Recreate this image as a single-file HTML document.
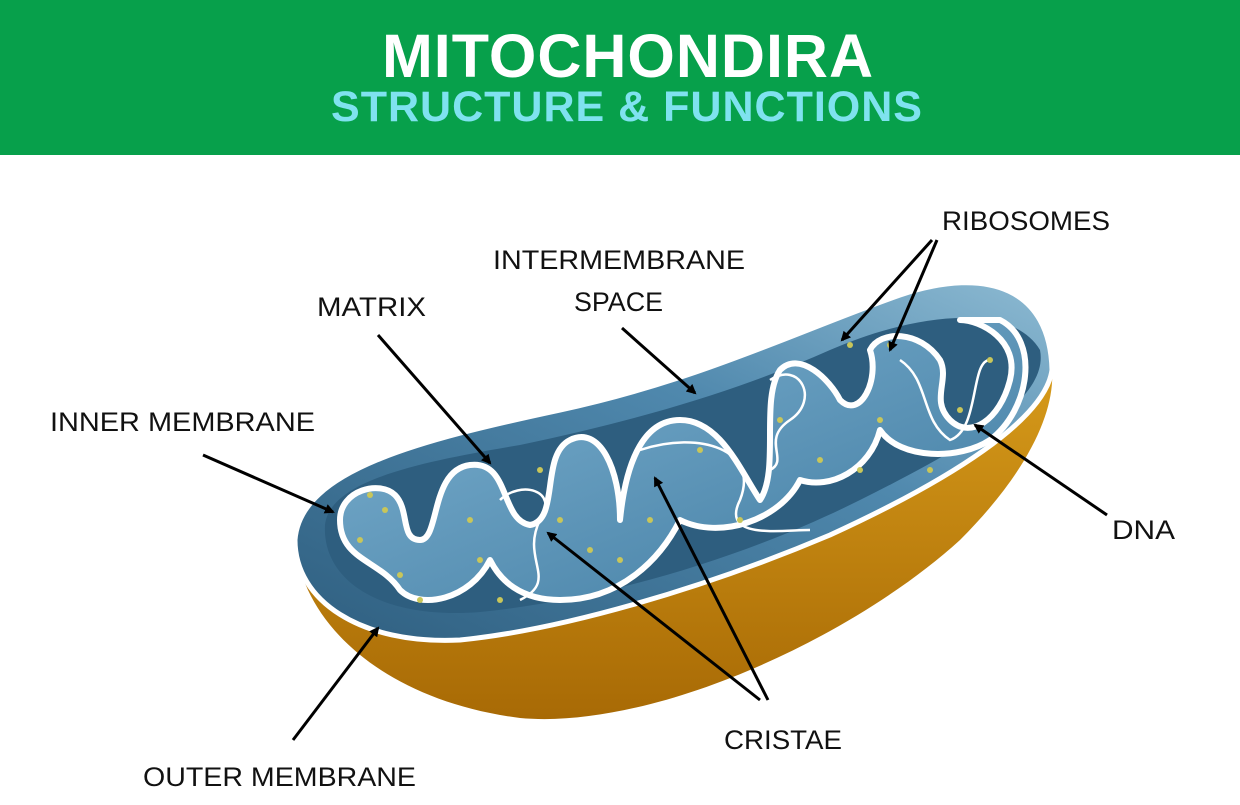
<!DOCTYPE html>
<html><head><meta charset="utf-8"><style>
body{margin:0;width:1240px;height:800px;overflow:hidden;background:#fff;font-family:"Liberation Sans",sans-serif}
</style></head><body>
<svg width="1240" height="800" viewBox="0 0 1240 800" xmlns="http://www.w3.org/2000/svg">
<defs>
<linearGradient id="br" x1="0" y1="0" x2="0" y2="1"><stop offset="0" stop-color="#d69a1a"/><stop offset="1" stop-color="#a86a05"/></linearGradient>
<linearGradient id="top" x1="0" y1="1" x2="1" y2="0"><stop offset="0" stop-color="#2f5f80"/><stop offset="0.6" stop-color="#4f88ad"/><stop offset="1" stop-color="#8dbad2"/></linearGradient>
<linearGradient id="fold" x1="0" y1="0" x2="1" y2="1"><stop offset="0" stop-color="#7fb3d2"/><stop offset="1" stop-color="#3f7aa0"/></linearGradient>
<marker id="a" markerWidth="10" markerHeight="10" refX="8" refY="5" orient="auto" markerUnits="userSpaceOnUse"><path d="M0,0 L10,5 L0,10 z" fill="#000"/></marker>
</defs>
<rect x="0" y="0" width="1240" height="155" fill="#07a04b"/>
<text x="628" y="77" text-anchor="middle" font-size="61" font-weight="bold" fill="#fff" letter-spacing="1">MITOCHONDIRA</text>
<text x="627" y="121" text-anchor="middle" font-size="43" font-weight="bold" fill="#7fe2ef" letter-spacing="1">STRUCTURE &amp; FUNCTIONS</text>
<path d="M295,540 C300,620 380,700 520,718 C650,730 850,640 960,540 C1030,470 1055,410 1052,370 L1000,430 C900,500 700,600 520,630 C420,640 330,610 295,540 Z" fill="url(#br)"/>
<path d="M295,540 C300,470 420,440 560,410 C700,380 800,330 900,295 C990,265 1050,290 1052,370 C1045,420 950,480 830,535 C700,590 560,630 460,640 C360,645 295,600 295,540 Z" fill="url(#top)" stroke="#fff" stroke-width="5"/>
<path d="M325,525 C330,480 420,462 520,445 C640,420 740,390 830,350 C910,315 1010,300 1040,350 C1050,400 960,450 860,500 C740,560 600,600 480,612 C380,620 322,580 325,525 Z" fill="#2e5e7f"/>
<path d="M340,520 C340,490 380,480 395,495 C410,510 400,540 420,540 C440,540 430,470 470,465 C510,460 500,520 530,525 C560,520 540,455 570,440 C600,425 620,470 620,520 C625,470 640,420 680,420 C720,420 740,470 760,500 C780,470 760,400 780,370 C800,350 830,380 840,400 C860,420 880,380 870,350 C880,330 920,330 940,360 C950,380 930,400 950,420 C970,440 1000,420 1010,380 C1020,340 980,320 960,320 L1000,320 C1040,340 1030,410 990,440 C960,460 900,460 880,430 C870,470 830,490 800,480 C780,520 720,540 680,520 C660,560 620,600 560,600 C520,600 500,580 490,560 C470,600 420,610 400,590 C380,560 340,560 340,520 Z" fill="url(#fold)" stroke="#fff" stroke-width="6" stroke-linejoin="round"/>
<path d="M500,500 C520,480 560,490 540,520 C520,560 560,580 520,600 M640,450 C700,430 760,450 740,500 C720,540 780,530 810,530 M770,380 C800,360 820,400 790,420 C760,440 790,460 770,470 M900,360 C930,380 920,420 950,440 C980,430 970,360 990,360" fill="none" stroke="#fff" stroke-width="2.5"/>
<g fill="#c8c65a">
<circle cx="370" cy="495" r="3"/><circle cx="385" cy="510" r="3"/><circle cx="360" cy="540" r="3"/><circle cx="400" cy="575" r="3"/><circle cx="420" cy="600" r="3"/><circle cx="470" cy="520" r="3"/><circle cx="480" cy="560" r="3"/><circle cx="500" cy="600" r="3"/><circle cx="560" cy="520" r="3"/><circle cx="590" cy="550" r="3"/><circle cx="620" cy="560" r="3"/><circle cx="650" cy="520" r="3"/><circle cx="700" cy="450" r="3"/><circle cx="740" cy="520" r="3"/><circle cx="820" cy="460" r="3"/><circle cx="860" cy="470" r="3"/><circle cx="880" cy="420" r="3"/><circle cx="850" cy="345" r="3"/><circle cx="890" cy="345" r="3"/><circle cx="960" cy="410" r="3"/><circle cx="990" cy="360" r="3"/><circle cx="780" cy="420" r="3"/><circle cx="930" cy="470" r="3"/><circle cx="540" cy="470" r="3"/>
</g>
<g font-size="27" fill="#111">
<text x="493" y="269" textLength="252" lengthAdjust="spacingAndGlyphs">INTERMEMBRANE</text>
<text x="574" y="311" textLength="89" lengthAdjust="spacingAndGlyphs">SPACE</text>
<text x="317" y="316" textLength="109" lengthAdjust="spacingAndGlyphs">MATRIX</text>
<text x="942" y="230" textLength="168" lengthAdjust="spacingAndGlyphs">RIBOSOMES</text>
<text x="50" y="431" textLength="265" lengthAdjust="spacingAndGlyphs">INNER MEMBRANE</text>
<text x="1112" y="539" textLength="63" lengthAdjust="spacingAndGlyphs">DNA</text>
<text x="724" y="749" textLength="118" lengthAdjust="spacingAndGlyphs">CRISTAE</text>
<text x="143" y="786" textLength="273" lengthAdjust="spacingAndGlyphs">OUTER MEMBRANE</text>
</g>
<g stroke="#000" stroke-width="3" marker-end="url(#a)">
<line x1="378" y1="335" x2="490" y2="463"/>
<line x1="622" y1="328" x2="695" y2="393"/>
<line x1="932" y1="240" x2="842" y2="340"/>
<line x1="937" y1="240" x2="890" y2="350"/>
<line x1="203" y1="455" x2="333" y2="512"/>
<line x1="1107" y1="515" x2="975" y2="425"/>
<line x1="760" y1="700" x2="548" y2="533"/>
<line x1="768" y1="700" x2="655" y2="478"/>
<line x1="293" y1="740" x2="378" y2="628"/>
</g>
</svg>
</body></html>
